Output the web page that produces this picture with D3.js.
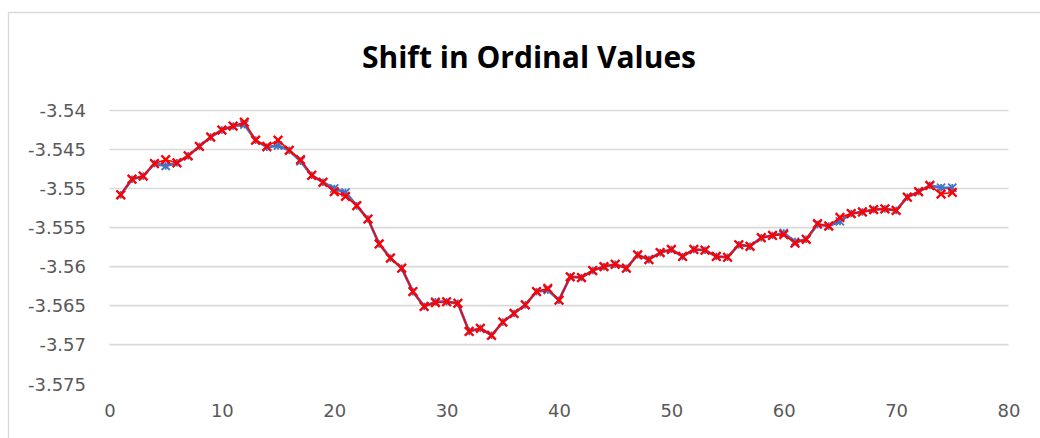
<!DOCTYPE html>
<html>
<head>
<meta charset="utf-8">
<script src="https://cdn.jsdelivr.net/npm/d3@7/dist/d3.min.js"></script>
<style>
  html, body { margin: 0; padding: 0; background: #fff; }
  svg { display: block; }
</style>
</head>
<body>
<svg id="chart" width="1040" height="438"></svg>
<script>
const chartTitle = "Shift in Ordinal Values";
const xValues = d3.range(1, 76);
const seriesBlue = [
  -3.5508, -3.5488, -3.5484, -3.5468, -3.5471, -3.5467, -3.5458, -3.5446, -3.5434, -3.5425,
  -3.5420, -3.5418, -3.5438, -3.5447, -3.5445, -3.5451, -3.5465, -3.5483, -3.5492, -3.5500,
  -3.5505, -3.5522, -3.5539, -3.5571, -3.5589, -3.5602, -3.5632, -3.5651, -3.5645, -3.5645,
  -3.5647, -3.5683, -3.5679, -3.5688, -3.5671, -3.5660, -3.5649, -3.5632, -3.5630, -3.5643,
  -3.5613, -3.5614, -3.5605, -3.5600, -3.5597, -3.5602, -3.5585, -3.5591, -3.5582, -3.5578,
  -3.5587, -3.5578, -3.5579, -3.5587, -3.5588, -3.5572, -3.5574, -3.5563, -3.5560, -3.5557,
  -3.5568, -3.5565, -3.5546, -3.5548, -3.5542, -3.5532, -3.5530, -3.5527, -3.5526, -3.5528,
  -3.5511, -3.5504, -3.5496, -3.5499, -3.5499
];
const seriesRed = [
  -3.5508, -3.5488, -3.5484, -3.5468, -3.5463, -3.5467, -3.5458, -3.5446, -3.5434, -3.5425,
  -3.5420, -3.5415, -3.5438, -3.5446, -3.5438, -3.5451, -3.5463, -3.5483, -3.5492, -3.5504,
  -3.5510, -3.5522, -3.5539, -3.5571, -3.5589, -3.5602, -3.5632, -3.5651, -3.5646, -3.5645,
  -3.5647, -3.5683, -3.5679, -3.5688, -3.5671, -3.5660, -3.5649, -3.5632, -3.5628, -3.5643,
  -3.5613, -3.5614, -3.5605, -3.5600, -3.5597, -3.5602, -3.5585, -3.5591, -3.5582, -3.5578,
  -3.5587, -3.5578, -3.5579, -3.5587, -3.5588, -3.5572, -3.5574, -3.5563, -3.5560, -3.5559,
  -3.5570, -3.5565, -3.5545, -3.5548, -3.5537, -3.5532, -3.5530, -3.5527, -3.5526, -3.5528,
  -3.5511, -3.5504, -3.5496, -3.5507, -3.5505
];
const yTicks = [-3.54, -3.545, -3.55, -3.555, -3.56, -3.565, -3.57, -3.575];
const yTickLabels = ["-3.54", "-3.545", "-3.55", "-3.555", "-3.56", "-3.565", "-3.57", "-3.575"];
const xTicks = [0, 10, 20, 30, 40, 50, 60, 70, 80];

const svg = d3.select("#chart");

// chart frame (partially visible border)
svg.append("path")
  .attr("d", "M8.5,438 L8.5,12.5 L1040,12.5")
  .attr("fill", "none").attr("stroke", "#D9D9D9").attr("stroke-width", 1.3);

const x = d3.scaleLinear().domain([0, 80]).range([109.5, 1008.5]);
const y = d3.scaleLinear().domain([-3.575, -3.54]).range([383.7, 110.5]);

// gridlines
svg.append("g").selectAll("line")
  .data(yTicks.filter(t => t !== -3.575))
  .join("line")
  .attr("x1", x(0)).attr("x2", x(80))
  .attr("y1", d => y(d)).attr("y2", d => y(d))
  .attr("stroke", "#D9D9D9").attr("stroke-width", 1.6);

// Y axis labels
const yAxis = d3.axisLeft(y).tickValues(yTicks).tickSize(0).tickPadding(0)
  .tickFormat((d, i) => yTickLabels[i]);
const gy = svg.append("g").attr("transform", "translate(86,0)").call(yAxis);
gy.select(".domain").remove();
gy.selectAll("text")
  .attr("font-family", "'DejaVu Sans', sans-serif")
  .attr("font-size", 18).attr("fill", "#595959")
  .attr("dy", "0.35em");

// X axis labels
const xAxis = d3.axisBottom(x).tickValues(xTicks).tickSize(0).tickPadding(0)
  .tickFormat(d3.format("d"));
const gx = svg.append("g").attr("transform", "translate(0,404)").call(xAxis);
gx.select(".domain").remove();
gx.selectAll("text")
  .attr("font-family", "'DejaVu Sans', sans-serif")
  .attr("font-size", 18).attr("fill", "#595959")
  .attr("dy", "0.71em");

// title
svg.append("text")
  .attr("x", 529).attr("y", 68)
  .attr("text-anchor", "middle")
  .attr("font-family", "'Open Sans', sans-serif")
  .attr("font-weight", "bold")
  .attr("font-size", 30)
  .attr("fill", "#000")
  .text(chartTitle);

const blueData = xValues.map((d, i) => [d, seriesBlue[i]]);
const redData = xValues.map((d, i) => [d, seriesRed[i]]);
const line = d3.line().x(d => x(d[0])).y(d => y(d[1]));

// blue series line and star markers
svg.append("path").datum(blueData)
  .attr("d", line).attr("fill", "none")
  .attr("stroke", "#4472C4").attr("stroke-width", 2.8).attr("stroke-linejoin", "round");
svg.append("g").selectAll("path").data(blueData).join("path")
  .attr("transform", d => `translate(${x(d[0])},${y(d[1])})`)
  .attr("d", d3.symbol().type(d3.symbolTimes).size(45)())
  .attr("fill", "none").attr("stroke", "#4472C4").attr("stroke-width", 1.8);
svg.append("g").selectAll("line").data(blueData).join("line")
  .attr("x1", d => x(d[0])).attr("x2", d => x(d[0]))
  .attr("y1", d => y(d[1]) - 3.8).attr("y2", d => y(d[1]) + 3.8)
  .attr("stroke", "#4472C4").attr("stroke-width", 1.8);

// red series line and x markers
svg.append("path").datum(redData)
  .attr("d", line).attr("fill", "none")
  .attr("stroke", "#FF0000").attr("stroke-width", 1.6).attr("stroke-linejoin", "round");
svg.append("g").selectAll("path").data(redData).join("path")
  .attr("transform", d => `translate(${x(d[0])},${y(d[1])})`)
  .attr("d", d3.symbol().type(d3.symbolTimes).size(50)())
  .attr("fill", "none").attr("stroke", "#FF0000").attr("stroke-width", 2.3);
</script>
</body>
</html>
